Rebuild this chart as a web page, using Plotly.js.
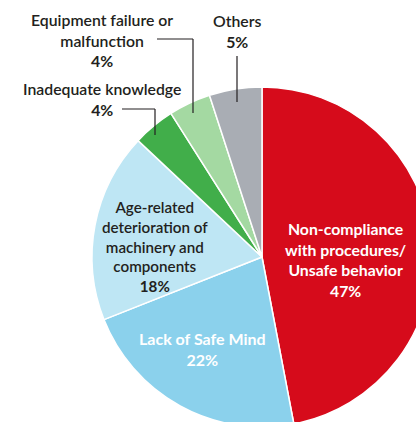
<!DOCTYPE html>
<html>
<head>
<meta charset="utf-8">
<script src="https://cdn.plot.ly/plotly-3.0.1.min.js"></script>
<style>
html,body{margin:0;padding:0;overflow:hidden;background:#fff;width:416px;height:422px;}
#chart{width:440px;height:440px;}
</style>
</head>
<body>
<div id="chart"></div>
<script>
// Data
const labels = ["Non-compliance with procedures/Unsafe behavior", "Lack of Safe Mind", "Age-related deterioration of machinery and components", "Inadequate knowledge", "Equipment failure or malfunction", "Others"];
const displayLabels = ["Non-compliance<br>with procedures/<br>Unsafe behavior", "Lack of Safe Mind", "Age-related<br>deterioration of<br>machinery and<br>components", "Inadequate knowledge", "Equipment failure or<br>malfunction", "Others"];
const values = [47, 22, 18, 4, 4, 5];
const colors = ["#d60b1b", "#8bd1ec", "#bee6f4", "#41ae4a", "#a4d9a2", "#a9adb4"];

const W = 440, H = 440;
const px = x => x / W;
const py = y => 1 - y / H;

const FONT = "Lato, 'Open Sans', sans-serif";

// label placement (pixel positions, styling)
const labelPos = [
  {x: 345, y: 259, color: "#ffffff", nameBold: true, size: 15.8},
  {x: 202, y: 349, color: "#ffffff", nameBold: true, size: 16},
  {x: 155, y: 246, color: "#231f20", nameBold: false, size: 15.2},
  {x: 102, y: 99, color: "#231f20", nameBold: false, size: 15.8},
  {x: 102, y: 40, color: "#231f20", nameBold: false, size: 15.8},
  {x: 237, y: 31, color: "#231f20", nameBold: false, size: 15.8}
];

const annotations = labels.map((l, i) => {
  const p = labelPos[i];
  const name = p.nameBold ? "<b>" + displayLabels[i] + "</b>" : displayLabels[i];
  return {
    xref: "paper", yref: "paper", x: px(p.x), y: py(p.y),
    xanchor: "center", yanchor: "middle", showarrow: false, align: "center",
    text: name + "<br><b>" + values[i] + "%</b>",
    font: {family: FONT, size: p.size, color: p.color, weight: p.nameBold ? 700 : 600}
  };
});

const lineStyle = {color: "#231f20", width: 1.2};
const seg = (x0, y0, x1, y1) => ({type: "line", xref: "paper", yref: "paper", x0: px(x0), y0: py(y0), x1: px(x1), y1: py(y1), line: lineStyle});
const shapes = [
  seg(157, 39, 193, 39), seg(193, 39, 193, 113),
  seg(122, 109, 155, 109), seg(155, 109, 155, 135),
  seg(237, 56, 237, 102)
];

const cx = 262, cy = 257, r = 170;
const trace = {
  type: "pie",
  labels: labels,
  values: values,
  sort: false,
  direction: "clockwise",
  rotation: 0,
  marker: {colors: colors, line: {color: "#ffffff", width: 1.5}},
  textinfo: "none",
  hoverinfo: "label+percent",
  domain: {x: [(cx - r) / W, (cx + r) / W], y: [(H - cy - r) / H, (H - cy + r) / H]},
  showlegend: false
};

Plotly.newPlot("chart", [trace], {
  width: W, height: H,
  margin: {l: 0, r: 0, t: 0, b: 0},
  paper_bgcolor: "#ffffff",
  showlegend: false,
  annotations: annotations,
  shapes: shapes
}, {displayModeBar: false, staticPlot: true});
</script>
</body>
</html>
